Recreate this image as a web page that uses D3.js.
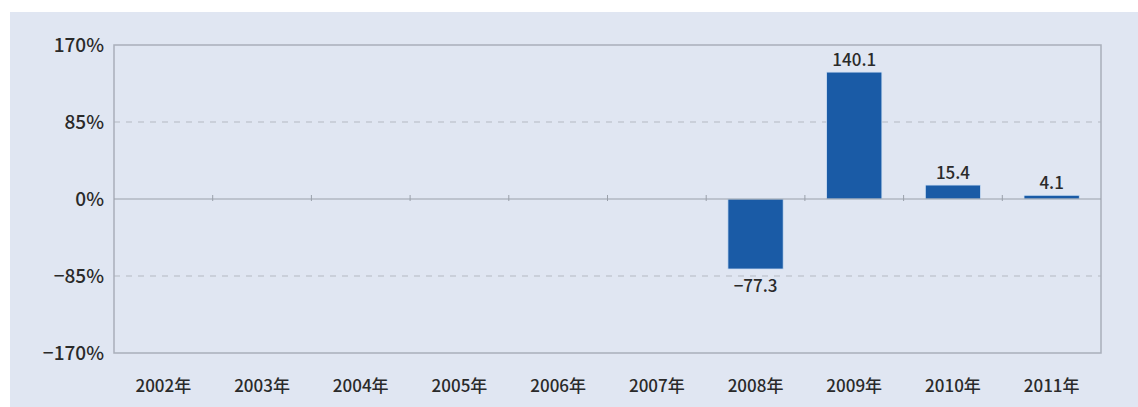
<!DOCTYPE html>
<html>
<head>
<meta charset="utf-8">
<script src="https://cdn.jsdelivr.net/npm/d3@7"></script>
<style>
  body { margin: 0; background: #fff; }
  text { font-family: "Noto Sans CJK JP", "Noto Sans", sans-serif; fill: #2a2a2a; font-weight: 500; }
</style>
</head>
<body>
<svg width="1138" height="407"></svg>
<script>
// Chart data
const years = ["2002年", "2003年", "2004年", "2005年", "2006年", "2007年", "2008年", "2009年", "2010年", "2011年"];
const growth = [null, null, null, null, null, null, -77.3, 140.1, 15.4, 4.1];
const yTicks = [-170, -85, 0, 85, 170];

const svg = d3.select("svg"),
    width = +svg.attr("width"),
    height = +svg.attr("height");

const margin = { top: 45, right: 37, bottom: 54, left: 114 };
const plotW = width - margin.left - margin.right,
    plotH = height - margin.top - margin.bottom;

// Light blue panel
svg.append("rect")
    .attr("x", 10).attr("y", 12)
    .attr("width", width - 10).attr("height", height - 12)
    .attr("fill", "#e0e6f2");

const g = svg.append("g")
    .attr("transform", `translate(${margin.left},${margin.top})`);

const x = d3.scaleBand().domain(years).range([0, plotW]).paddingInner(0.44).paddingOuter(0.22);
const xb = d3.scaleBand().domain(years).range([0, plotW]);
const y = d3.scaleLinear().domain([-170, 170]).range([plotH, 0]);

// Dashed grid lines
g.selectAll(".grid")
    .data(yTicks.filter(d => d !== 0 && Math.abs(d) !== 170))
    .enter().append("line")
    .attr("x1", 0).attr("x2", plotW)
    .attr("y1", d => y(d)).attr("y2", d => y(d))
    .attr("stroke", "#b4b9c2")
    .attr("stroke-dasharray", "6,6");

// Plot frame
g.append("rect")
    .attr("width", plotW).attr("height", plotH)
    .attr("fill", "none")
    .attr("stroke", "#a9afba")
    .attr("stroke-width", 1.5);

// Bars
const bars = years.map((c, i) => ({ c, v: growth[i] })).filter(d => d.v !== null);

g.selectAll(".bar")
    .data(bars)
    .enter().append("rect")
    .attr("x", d => x(d.c))
    .attr("width", x.bandwidth())
    .attr("y", d => y(Math.max(0, d.v)))
    .attr("height", d => Math.abs(y(d.v) - y(0)))
    .attr("fill", "#1a5ba6")
    .attr("stroke", "#cfe0f5")
    .attr("stroke-width", 0.8);

// Zero line with category tick marks
g.append("line")
    .attr("x1", 0).attr("x2", plotW)
    .attr("y1", y(0)).attr("y2", y(0))
    .attr("stroke", "#9aa0aa")
    .attr("stroke-width", 1.2);

g.selectAll(".tick-mark")
    .data(years.slice(1))
    .enter().append("line")
    .attr("x1", d => xb(d)).attr("x2", d => xb(d))
    .attr("y1", y(0) - 4).attr("y2", y(0) + 2)
    .attr("stroke", "#9aa0aa");

// Value labels
g.selectAll(".val")
    .data(bars)
    .enter().append("text")
    .attr("x", d => x(d.c) + x.bandwidth() / 2)
    .attr("y", d => d.v >= 0 ? y(d.v) - 6 : y(d.v) + 23)
    .attr("text-anchor", "middle")
    .attr("font-size", 17)
    .text(d => d.v < 0 ? "−" + Math.abs(d.v).toFixed(1) : d.v.toFixed(1));

// Y axis labels
g.selectAll(".ylab")
    .data(yTicks)
    .enter().append("text")
    .attr("x", -10)
    .attr("y", d => y(d))
    .attr("dy", "0.35em")
    .attr("text-anchor", "end")
    .attr("font-size", 19)
    .text(d => (d < 0 ? "−" + Math.abs(d) : d) + "%");

// X axis labels
g.selectAll(".xlab")
    .data(years)
    .enter().append("text")
    .attr("x", d => xb(d) + xb.bandwidth() / 2)
    .attr("y", plotH + 39)
    .attr("text-anchor", "middle")
    .attr("font-size", 17)
    .text(d => d);
</script>
</body>
</html>
